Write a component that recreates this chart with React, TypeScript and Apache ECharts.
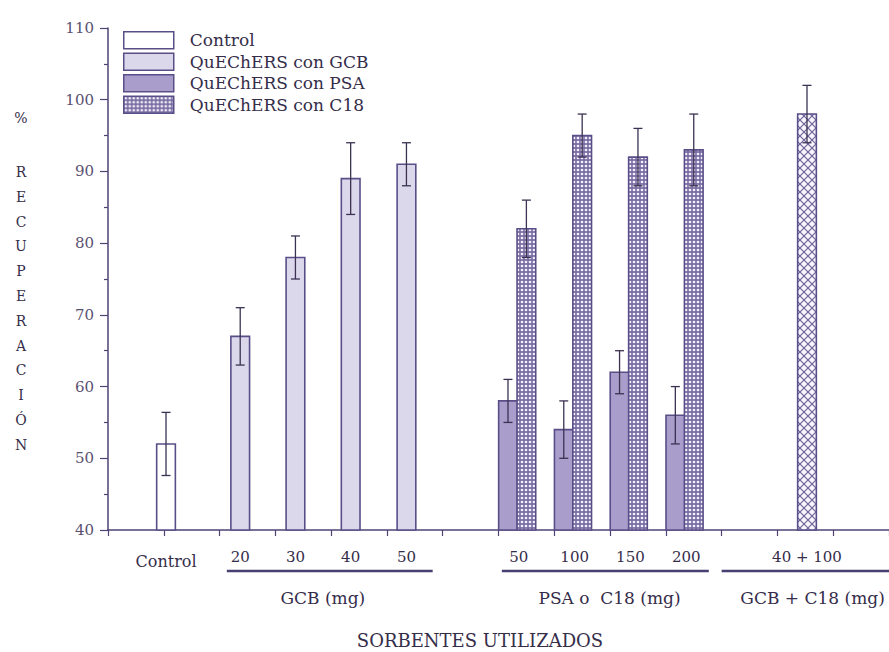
import React, { useEffect, useRef } from 'react';
import * as echarts from 'echarts';

// ---------------- data ----------------
const seriesNames = ['Control', 'QuEChERS con GCB', 'QuEChERS con PSA', 'QuEChERS con C18'];
const comboSeriesName = 'QuEChERS con GCB + C18';

const controlLabels = ['Control'];
const controlValues = [52];
const controlErrors = [4.4];

const gcbDoses = ['20', '30', '40', '50'];
const gcbValues = [67, 78, 89, 91];
const gcbErrors = [4, 3, 5, 3];

const psaC18Doses = ['50', '100', '150', '200'];
const psaValues = [58, 54, 62, 56];
const psaErrors = [3, 4, 3, 4];
const c18Values = [82, 95, 92, 93];
const c18Errors = [4, 3, 4, 5];

const comboDoses = ['40 + 100'];
const comboValues = [98];
const comboErrors = [4];

const groupTitles = ['GCB (mg)', 'PSA o  C18 (mg)', 'GCB + C18 (mg)'];
const xAxisTitle = 'SORBENTES UTILIZADOS';
const yAxisTitlePrefix = '%';
const yAxisTitleWord = 'RECUPERACIÓN';

const yMin = 40;
const yMax = 110;
const yStep = 10;
const xMin = 0;
const xMax = 14;

// ---------------- layout (slots on the numeric x axis) ----------------
const controlSlots = [1.04];
const gcbSlots = [2.37, 3.36, 4.35, 5.35];
const psaSlots = [7.17, 8.17, 9.17, 10.17];
const c18Slots = [7.5, 8.5, 9.5, 10.5];
const comboSlots = [12.53];
const groupSpans = [
  [2.13, 5.82],
  [7.06, 10.77],
  [11.0, 14.0],
];
const groupTitleSlots = [3.85, 8.99, 12.63];

const BAR_W = 0.335;
const CAP = 4.5;
const FONT = 'DejaVu Serif';
const AXIS = '#4f4474';
const BORDER = '#5a4e88';
const ERR = '#3b3252';
const TEXT = '#352d4a';
const TICKTEXT = '#5a5170';
const GCB_FILL = '#dcd8ec';
const PSA_FILL = '#a99dcb';

function makeDotPattern() {
  const c = document.createElement('canvas');
  c.width = 4;
  c.height = 4;
  const ctx = c.getContext('2d')!;
  ctx.fillStyle = '#7a6ea4';
  ctx.fillRect(0, 0, 4, 4);
  ctx.fillStyle = '#f3f1f9';
  ctx.beginPath();
  ctx.arc(2, 2, 1.35, 0, Math.PI * 2);
  ctx.fill();
  return { image: c, repeat: 'repeat', imageWidth: 4, imageHeight: 4 } as any;
}

function makeCrossPattern() {
  const c = document.createElement('canvas');
  c.width = 8;
  c.height = 8;
  const ctx = c.getContext('2d')!;
  ctx.fillStyle = '#f6f5fb';
  ctx.fillRect(0, 0, 8, 8);
  ctx.strokeStyle = '#6a5e96';
  ctx.lineWidth = 1.1;
  ctx.beginPath();
  ctx.moveTo(0, 0);
  ctx.lineTo(8, 8);
  ctx.moveTo(8, 0);
  ctx.lineTo(0, 8);
  ctx.stroke();
  return { image: c, repeat: 'repeat', imageWidth: 8, imageHeight: 8 } as any;
}

function makeBarRender(fill: any) {
  return (params: any, api: any) => {
    const x = api.value(0);
    const v = api.value(1);
    const e = api.value(2);
    const w = api.size([BAR_W, 0])[0];
    const top = api.coord([x, v]);
    const base = api.coord([x, yMin]);
    const hi = api.coord([x, v + e]);
    const lo = api.coord([x, v - e]);
    const cx = top[0];
    const es = { stroke: ERR, lineWidth: 1.3 };
    return {
      type: 'group',
      children: [
        {
          type: 'rect',
          shape: { x: cx - w / 2, y: top[1], width: w, height: base[1] - top[1] },
          style: { fill, stroke: BORDER, lineWidth: 1.6 },
        },
        { type: 'line', shape: { x1: cx, y1: hi[1], x2: cx, y2: lo[1] }, style: es },
        { type: 'line', shape: { x1: cx - CAP, y1: hi[1], x2: cx + CAP, y2: hi[1] }, style: es },
        { type: 'line', shape: { x1: cx - CAP, y1: lo[1], x2: cx + CAP, y2: lo[1] }, style: es },
      ],
    };
  };
}

function barSeries(name: string, slots: number[], values: number[], errors: number[], fill: any) {
  return {
    type: 'custom',
    name,
    clip: false,
    itemStyle: { color: fill, borderColor: BORDER, borderWidth: 1.6 },
    encode: { x: 0, y: 1 },
    data: slots.map((s, i) => [s, values[i], errors[i]]),
    renderItem: makeBarRender(fill),
  };
}

function labelSeries(id: string, slots: number[], labels: string[], dy: number, size: number) {
  return {
    type: 'custom',
    id,
    clip: false,
    silent: true,
    encode: { x: 0, y: 1 },
    data: slots.map((s) => [s, yMin]),
    renderItem: (params: any, api: any) => {
      const p = api.coord([api.value(0), yMin]);
      return {
        type: 'text',
        x: p[0],
        y: p[1] + dy,
        style: {
          text: labels[params.dataIndex],
          fill: TEXT,
          fontFamily: FONT,
          fontSize: size,
          align: 'center',
          verticalAlign: 'middle',
        },
      };
    },
  };
}

export default function App() {
  const ref = useRef<HTMLDivElement>(null);

  useEffect(() => {
    if (!ref.current) return;
    const chart = echarts.init(ref.current, undefined, { renderer: 'svg' });
    const dots = makeDotPattern();
    const cross = makeCrossPattern();
    const fills = ['#ffffff', GCB_FILL, PSA_FILL, dots];

    const option: any = {
      animation: false,
      backgroundColor: '#ffffff',
      grid: { left: 108, top: 28, width: 781, height: 502, containLabel: false },
      legend: {
        left: 118,
        top: 26,
        orient: 'vertical',
        itemWidth: 50,
        itemHeight: 17,
        itemGap: 3,
        selectedMode: false,
        textStyle: {
          fontFamily: FONT,
          fontSize: 17,
          color: TEXT,
          rich: { a: { fontFamily: FONT, fontSize: 17, color: TEXT, padding: [0, 0, 0, 11] } },
        },
        formatter: (name: string) => '{a|' + name + '}',
        data: seriesNames.map((n, i) => ({
          name: n,
          icon: 'rect',
          itemStyle: { color: fills[i], borderColor: BORDER, borderWidth: 1.5 },
        })),
      },
      xAxis: {
        type: 'value',
        min: xMin,
        max: xMax,
        interval: 1,
        axisLine: { show: true, onZero: false, lineStyle: { color: AXIS, width: 1.5 } },
        axisTick: { show: true, length: 6, lineStyle: { color: AXIS, width: 1.2 } },
        axisLabel: { show: false },
        splitLine: { show: false },
      },
      yAxis: {
        type: 'value',
        min: yMin,
        max: yMax,
        interval: yStep,
        axisLine: { show: true, onZero: false, lineStyle: { color: AXIS, width: 1.5 } },
        axisTick: { show: true, length: 8, lineStyle: { color: AXIS, width: 1.2 } },
        minorTick: { show: true, splitNumber: 2, length: 4, lineStyle: { color: AXIS, width: 1.2 } },
        axisLabel: { margin: 14, fontFamily: FONT, fontSize: 15, color: TICKTEXT },
        splitLine: { show: false },
      },
      series: [
        barSeries(seriesNames[0], controlSlots, controlValues, controlErrors, '#ffffff'),
        barSeries(seriesNames[1], gcbSlots, gcbValues, gcbErrors, GCB_FILL),
        barSeries(seriesNames[2], psaSlots, psaValues, psaErrors, PSA_FILL),
        barSeries(seriesNames[3], c18Slots, c18Values, c18Errors, dots),
        barSeries(comboSeriesName, comboSlots, comboValues, comboErrors, cross),
        labelSeries('lblControl', controlSlots, controlLabels, 31, 16),
        labelSeries('lblGcb', gcbSlots, gcbDoses, 27, 15),
        labelSeries(
          'lblPsa',
          psaSlots.map((s, i) => (s + c18Slots[i]) / 2 + 0.03),
          psaC18Doses,
          27,
          15
        ),
        labelSeries('lblCombo', comboSlots, comboDoses, 27, 15),
        labelSeries('lblGroups', groupTitleSlots, groupTitles, 68, 17),
        {
          type: 'custom',
          id: 'underlines',
          clip: false,
          silent: true,
          encode: { x: [0, 1], y: 2 },
          data: groupSpans.map((s) => [s[0], s[1], yMin]),
          renderItem: (params: any, api: any) => {
            const a = api.coord([api.value(0), yMin]);
            const b = api.coord([api.value(1), yMin]);
            return {
              type: 'line',
              shape: { x1: a[0], y1: a[1] + 41, x2: b[0], y2: b[1] + 41 },
              style: { stroke: '#4a3f72', lineWidth: 2.6 },
            };
          },
        },
      ],
      graphic: [
        {
          type: 'text',
          x: 21,
          y: 118,
          style: {
            text: yAxisTitlePrefix,
            fill: TEXT,
            fontFamily: FONT,
            fontSize: 14,
            align: 'center',
            verticalAlign: 'middle',
          },
        },
        {
          type: 'text',
          x: 21,
          y: 172 - 12.4,
          style: {
            text: yAxisTitleWord.split('').join('\n'),
            fill: TEXT,
            fontFamily: FONT,
            fontSize: 14,
            lineHeight: 24.8,
            align: 'center',
            verticalAlign: 'top',
          },
        },
        {
          type: 'text',
          x: 480,
          y: 640,
          style: {
            text: xAxisTitle,
            fill: TEXT,
            fontFamily: FONT,
            fontSize: 18,
            align: 'center',
            verticalAlign: 'middle',
          },
        },
      ],
    };

    chart.setOption(option);
    return () => chart.dispose();
  }, []);

  return (
    <div
      ref={ref}
      style={{ position: 'fixed', left: 0, top: 0, width: 889, height: 652, background: '#ffffff' }}
    />
  );
}
